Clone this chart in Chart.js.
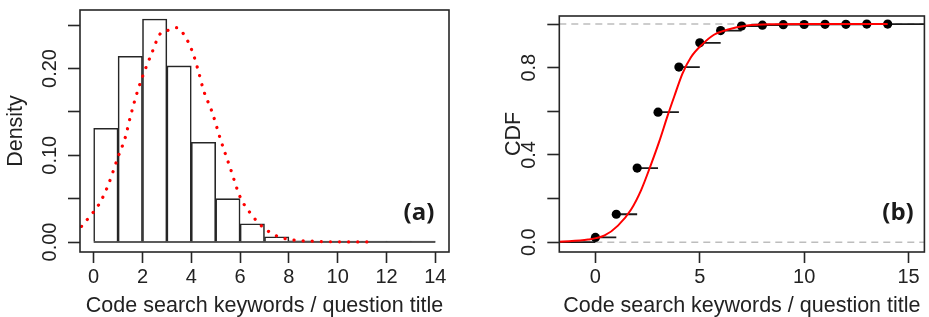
<!DOCTYPE html>
<html>
<head>
<meta charset="utf-8">
<script src="https://cdn.jsdelivr.net/npm/chart.js@4/dist/chart.umd.min.js"></script>
<style>
	html,body{margin:0;padding:0;background:#fff;}
	#wrap{position:relative;width:929px;height:317px;overflow:hidden;}
	#wrap canvas{position:absolute;top:0;}
</style>
</head>
<body>
<div id="wrap">
	<canvas id="histChart" width="465" height="317" style="left:0"></canvas>
	<canvas id="cdfChart" width="464" height="317" style="left:465px"></canvas>
</div>
<script>
// ---- data ----
const xTitle = 'Code search keywords / question title';

// (a) histogram of keywords per question title, bins of width 1
const binEdges = [0,1,2,3,4,5,6,7,8,9,10,11,12,13,14];
const densities = [0.131,0.214,0.257,0.203,0.115,0.050,0.021,0.006,0.0015,0.0005,0.0002,0.0001,0.0001,0.0001];
// fitted density (red dotted)
const densX = [-0.5,0,0.25,0.6,1.0,1.3,1.5,1.8,2.1,2.4,2.7,3.05,3.4,3.7,4.05,4.3,4.5,4.85,5.2,5.6,6.0,6.4,6.9,7.5,8.2,8.9,9.5,10.3,11.3];
const densY = [0.018,0.035,0.045,0.066,0.098,0.121,0.144,0.174,0.198,0.219,0.239,0.244,0.247,0.239,0.219,0.196,0.175,0.150,0.118,0.085,0.052,0.034,0.018,0.007,0.0023,0.001,0.0004,0.0002,0.0001];
const histXTicks = [0,2,4,6,8,10,12,14];
const histYTicks = [0,0.05,0.10,0.15,0.20,0.25];
const histYLabels = ['0.00','','0.10','','0.20',''];

// (b) empirical CDF and fitted CDF
const ecdfX = [0,1,2,3,4,5,6,7,8,9,10,11,12,13,14];
const ecdfY = [0.022,0.128,0.340,0.596,0.803,0.914,0.970,0.991,0.995,0.997,0.998,0.999,0.999,1.0,1.0];
const cdfX = [-1.73,-0.35,0.44,1.08,1.71,2.19,2.67,3.06,3.46,3.78,4.17,4.57,5.12,5.68,6.31,7.27,8.5,10,12,14];
const cdfY = [0.002,0.012,0.031,0.076,0.150,0.239,0.358,0.462,0.580,0.669,0.773,0.847,0.907,0.951,0.974,0.993,0.999,1,1,1];
const cdfXTicks = [0,5,10,15];
const cdfYTicks = [0,0.2,0.4,0.6,0.8,1.0];
const cdfYLabels = ['0.0','','0.4','','0.8',''];
const refLevels = [0,1];

const FONT = "'Liberation Sans', Arial, sans-serif";
const INK = '#262626';

// frame around the plot region + panel tag, R style
function framePlugin(tag, tx, ty){
	return {
		id:'frame',
		afterDatasetsDraw(chart){
			const a = chart.chartArea, ctx = chart.ctx;
			ctx.save();
			ctx.strokeStyle = INK; ctx.lineWidth = 1.6;
			ctx.strokeRect(a.left, a.top, a.right-a.left, a.bottom-a.top);
			ctx.fillStyle = '#1a1a1a';
			ctx.font = "bold 24px 'Open Sans', sans-serif";
			ctx.textAlign = 'center'; ctx.textBaseline = 'middle';
			ctx.fillText(tag, tx, ty);
			ctx.restore();
		}
	};
}

function axisX(min, max, ticks, h){
	return {
		type:'linear', min:min, max:max, offset:false,
		afterFit: s => { s.height = h; },
		afterBuildTicks: s => { s.ticks = ticks.map(v => ({value:v})); },
		grid:{ drawOnChartArea:false, drawTicks:true, tickLength:11, tickWidth:1.6, color:INK, offset:false },
		border:{ display:false },
		ticks:{ color:'#222', font:{family:FONT, size:20}, padding:2, maxRotation:0, autoSkip:false,
			callback:(v,i) => String(ticks[i]) },
		title:{ display:true, text:xTitle, color:'#222', font:{family:FONT, size:21.5}, padding:{top:0,bottom:-2} }
	};
}
function axisY(min, max, ticks, labels, w, pad, title){
	return {
		type:'linear', min:min, max:max,
		afterFit: s => { s.width = w; },
		afterBuildTicks: s => { s.ticks = ticks.map(v => ({value:v})); },
		grid:{ drawOnChartArea:false, drawTicks:true, tickLength:12, tickWidth:1.6, color:INK },
		border:{ display:false },
		ticks:{ color:'#222', font:{family:FONT, size:20}, padding:pad, minRotation:90, maxRotation:90,
			crossAlign:'center', autoSkip:false, callback:(v,i) => labels[i] },
		title:{ display:true, text:title, color:'#222', font:{family:FONT, size:21.5}, padding:{top:3,bottom:0} }
	};
}
const baseOpts = { responsive:false, animation:false, devicePixelRatio:1,
	plugins:{ legend:{display:false}, tooltip:{enabled:false} } };

// ---- (a) histogram ----
const bars = densities.map((d,i) => ({ x:(binEdges[i]+binEdges[i+1])/2, y:d }));
const baseline = [{x:binEdges[0], y:0}, {x:binEdges[binEdges.length-1], y:0}];
new Chart(document.getElementById('histChart'), {
	type:'bar',
	data:{ datasets:[
		{ type:'line', data:densX.map((x,i)=>({x:x, y:densY[i]})), borderColor:'#ff0000', borderWidth:3.2,
			borderDash:[0.1,9], borderCapStyle:'round', pointRadius:0, fill:false, cubicInterpolationMode:'monotone' },
		{ type:'line', data:baseline, borderColor:INK, borderWidth:1.6, pointRadius:0, fill:false },
		{ type:'bar', data:bars, backgroundColor:'#ffffff', borderColor:INK, borderWidth:1.6,
			borderSkipped:'start', barPercentage:1, categoryPercentage:1, minBarLength:1 }
	]},
	options:Object.assign({}, baseOpts, {
		layout:{ padding:{left:0, top:10, right:16, bottom:0} },
		scales:{
			x: axisX(-0.56, 14.56, histXTicks, 65),
			y: axisY(-0.0115, 0.2674, histYTicks, histYLabels, 80, -2, 'Density')
		}
	}),
	plugins:[framePlugin('(a)', 419, 213)]
});

// ---- (b) CDF ----
const cxMin = -1.73, cxMax = 15.76;
const steps = [{x:cxMin, y:0}, {x:ecdfX[0], y:0}, {x:ecdfX[0], y:null}];
ecdfX.forEach((x,i) => {
	const next = i < ecdfX.length-1 ? ecdfX[i+1] : cxMax;
	steps.push({x:x, y:ecdfY[i]}, {x:next, y:ecdfY[i]}, {x:next, y:null});
});
const refLines = [];
refLevels.forEach(l => { refLines.push({x:cxMin, y:l}, {x:cxMax, y:l}, {x:cxMax, y:null}); });

new Chart(document.getElementById('cdfChart'), {
	type:'scatter',
	data:{ datasets:[
		{ type:'line', data:cdfX.map((x,i)=>({x:x, y:cdfY[i]})), borderColor:'#ff0000', borderWidth:2,
			pointRadius:0, fill:false, cubicInterpolationMode:'monotone' },
		{ type:'scatter', data:ecdfX.map((x,i)=>({x:x, y:ecdfY[i]})), backgroundColor:'#000', borderColor:'#000',
			pointRadius:4.6, borderWidth:0 },
		{ type:'line', data:steps, borderColor:'#1a1a1a', borderWidth:1.8, pointRadius:0, fill:false, spanGaps:false },
		{ type:'line', data:refLines, borderColor:'#bdbdbd', borderWidth:1.4, borderDash:[7,5], pointRadius:0, fill:false, spanGaps:false }
	]},
	options:Object.assign({}, baseOpts, {
		layout:{ padding:{left:33.5, top:9, right:2.3, bottom:0} },
		scales:{
			x: axisX(cxMin, cxMax, cdfXTicks, 65),
			y: axisY(-0.045, 1.037, cdfYTicks, cdfYLabels, 60.8, 4, 'CDF')
		}
	}),
	plugins:[framePlugin('(b)', 433, 213)]
});
</script>
</body>
</html>
